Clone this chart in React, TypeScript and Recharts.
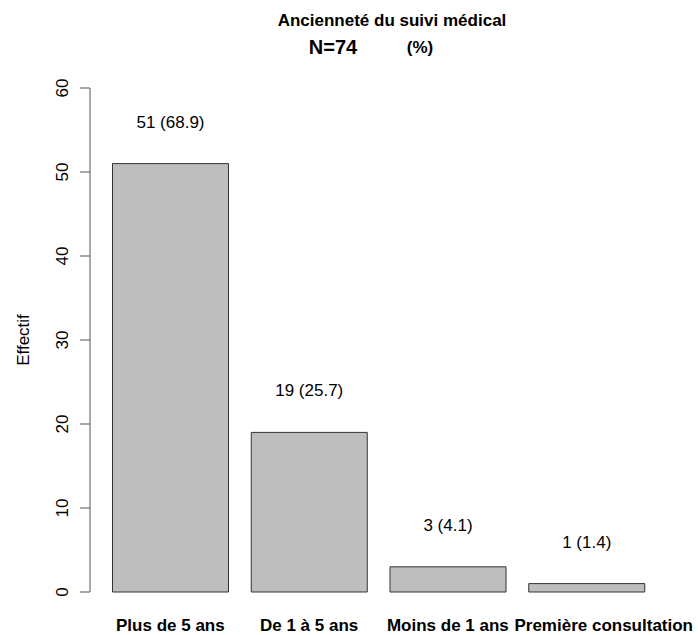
import React from 'react';
import { BarChart, Bar, XAxis, YAxis, LabelList } from 'recharts';

const categories = ['Plus de 5 ans', 'De 1 à 5 ans', 'Moins de 1 ans', 'Première consultation'];
const counts = [51, 19, 3, 1];
const percents = [68.9, 25.7, 4.1, 1.4];
const yTicks = [0, 10, 20, 30, 40, 50, 60];
const titleText = 'Ancienneté du suivi médical';
const subtitleN = 'N=74';
const subtitlePct = '(%)';
const yLabel = 'Effectif';

const data = categories.map((c, i) => ({
  name: c,
  count: counts[i],
  label: `${counts[i]} (${percents[i].toFixed(1)})`,
}));

const FONT = '"Liberation Sans", Arial, Helvetica, sans-serif';
const CHART_W = 698;

const XTick = (props: any) => {
  const { x, y, payload, index } = props;
  const isLast = index === categories.length - 1;
  // keep the last (widest) label inside the canvas, as in the reference
  const tx = isLast ? CHART_W - 5 : x;
  return (
    <text
      x={tx}
      y={y}
      dy={39}
      textAnchor={isLast ? 'end' : 'middle'}
      fontFamily={FONT}
      fontSize={17}
      fontWeight="bold"
      fill="#000"
    >
      {payload.value}
    </text>
  );
};

const YTick = (props: any) => {
  const { x, y, payload } = props;
  const tx = x - 10;
  return (
    <text x={tx} y={y} transform={`rotate(-90, ${tx}, ${y})`} textAnchor="middle" fontFamily={FONT} fontSize={17} fill="#000">
      {payload.value}
    </text>
  );
};

const BarLabel = (props: any) => {
  const { x, y, width, value } = props;
  return (
    <text x={x + width / 2} y={y - 36} textAnchor="middle" fontFamily={FONT} fontSize={17} fill="#000">
      {value}
    </text>
  );
};

export default function App() {
  return (
    <div style={{ position: 'absolute', left: 0, top: 0, width: 698, height: 635, background: '#fff' }}>
      <BarChart
        width={698}
        height={635}
        data={data}
        margin={{ top: 88, right: 42, bottom: 0, left: 0 }}
        barCategoryGap={11.5}
      >
        <XAxis
          dataKey="name"
          axisLine={false}
          tickLine={false}
          tickSize={0}
          tickMargin={0}
          height={43}
          padding={{ left: 11, right: 0 }}
          interval={0}
          tick={<XTick />}
        />
        <YAxis
          type="number"
          domain={[0, 60]}
          ticks={yTicks}
          width={90}
          tickSize={10}
          tickMargin={2}
          axisLine={{ stroke: '#555', strokeWidth: 1 }}
          tickLine={{ stroke: '#555', strokeWidth: 1 }}
          tick={<YTick />}
          interval={0}
        />
        <Bar dataKey="count" fill="#bebebe" stroke="#333" strokeWidth={1} isAnimationActive={false}>
          <LabelList dataKey="label" content={<BarLabel />} />
        </Bar>
      </BarChart>
      <svg width={698} height={635} style={{ position: 'absolute', left: 0, top: 0, pointerEvents: 'none' }}>
        <text x={392} y={26} textAnchor="middle" fontFamily={FONT} fontSize={17} fontWeight="bold" fill="#000">
          {titleText}
        </text>
        <text x={333} y={54} textAnchor="middle" fontFamily={FONT} fontSize={20} fontWeight="bold" fill="#000">
          {subtitleN}
        </text>
        <text x={420} y={53} textAnchor="middle" fontFamily={FONT} fontSize={17} fontWeight="bold" fill="#000">
          {subtitlePct}
        </text>
        <text x={29} y={340} transform="rotate(-90, 29, 340)" textAnchor="middle" fontFamily={FONT} fontSize={17} fill="#000">
          {yLabel}
        </text>
      </svg>
    </div>
  );
}
